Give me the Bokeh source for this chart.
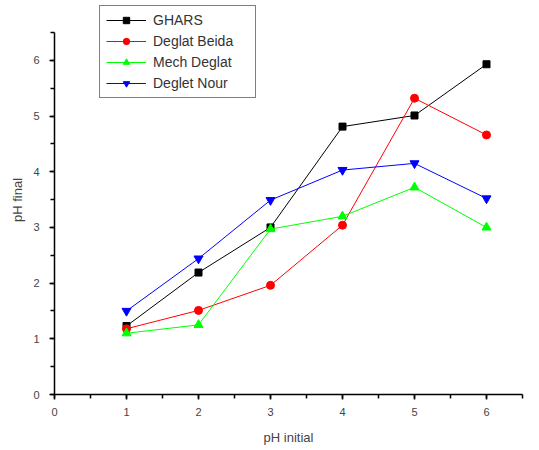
from bokeh.plotting import figure
from bokeh.models import Range1d, Legend, LegendItem, SingleIntervalTicker
from bokeh.embed import file_html
from bokeh.resources import INLINE

# pH measurements for each date variety
ph_initial = [1, 2, 3, 4, 5, 6]
ghars = [1.23, 2.19, 3.0, 4.81, 5.01, 5.93]
deglat_beida = [1.18, 1.51, 1.96, 3.04, 5.32, 4.66]
mech_deglat = [1.10, 1.25, 2.97, 3.20, 3.72, 3.0]
deglet_nour = [1.50, 2.44, 3.49, 4.03, 4.15, 3.52]

series = [
    ("GHARS", ghars, "black", "square", 7),
    ("Deglat Beida", deglat_beida, "red", "circle", 8),
    ("Mech Deglat", mech_deglat, "#00ff00", "triangle", 9),
    ("Deglet Nour", deglet_nour, "blue", "inverted_triangle", 9),
]

FONT = "Liberation Sans"

# axes run 0..6.5; the frame leaves headroom above for the legend box
Y_TOP = 6.5
FRAME_H = 389
y_end = Y_TOP * FRAME_H / 362.0

p = figure(width=539, height=450, output_backend="svg", toolbar_location=None,
           x_range=Range1d(0, 6.5), y_range=Range1d(0, y_end),
           min_border_left=54, min_border_right=17, min_border_top=5, min_border_bottom=56)
p.outline_line_color = None
p.xgrid.visible = False
p.ygrid.visible = False
p.background_fill_color = "white"
p.border_fill_color = "white"

items = []
for name, ys, color, marker, size in series:
    ln = p.line(ph_initial, ys, line_color=color, line_width=1)
    sc = p.scatter(ph_initial, ys, marker=marker, size=size, fill_color=color, line_color=color)
    items.append(LegendItem(label=name, renderers=[ln, sc]))

for ax in (p.xaxis[0], p.yaxis[0]):
    ax.ticker = SingleIntervalTicker(interval=1, num_minor_ticks=2)
    ax.bounds = (0, 6.5)
    ax.major_tick_in = 0
    ax.major_tick_out = 5
    ax.minor_tick_in = 0
    ax.minor_tick_out = 4
    ax.axis_line_color = "black"
    ax.axis_line_width = 1.5
    ax.major_tick_line_width = 1.5
    ax.minor_tick_line_width = 1.5
    ax.major_label_text_font = FONT
    ax.major_label_text_font_size = "11px"
    ax.major_label_text_color = "#444444"
    ax.axis_label_text_font = FONT
    ax.axis_label_text_font_size = "13px"
    ax.axis_label_text_font_style = "normal"
    ax.axis_label_text_color = "#444444"

p.xaxis.axis_label = "pH initial"
p.yaxis.axis_label = "pH final"
p.xaxis.major_label_standoff = 8
p.yaxis.major_label_standoff = 10
p.xaxis.axis_label_standoff = 11
p.yaxis.axis_label_standoff = 5

legend = Legend(items=items, location=(45, 296), orientation="vertical",
                border_line_color="black", border_line_width=1.5,
                background_fill_alpha=1.0, padding=6, spacing=5, margin=0,
                glyph_width=40, glyph_height=16, label_height=16, label_width=96,
                label_text_font=FONT, label_text_font_size="14px",
                label_text_color="#333333", label_standoff=7)
p.add_layout(legend, "center")

open("out.html", "w").write(file_html(p, INLINE))
